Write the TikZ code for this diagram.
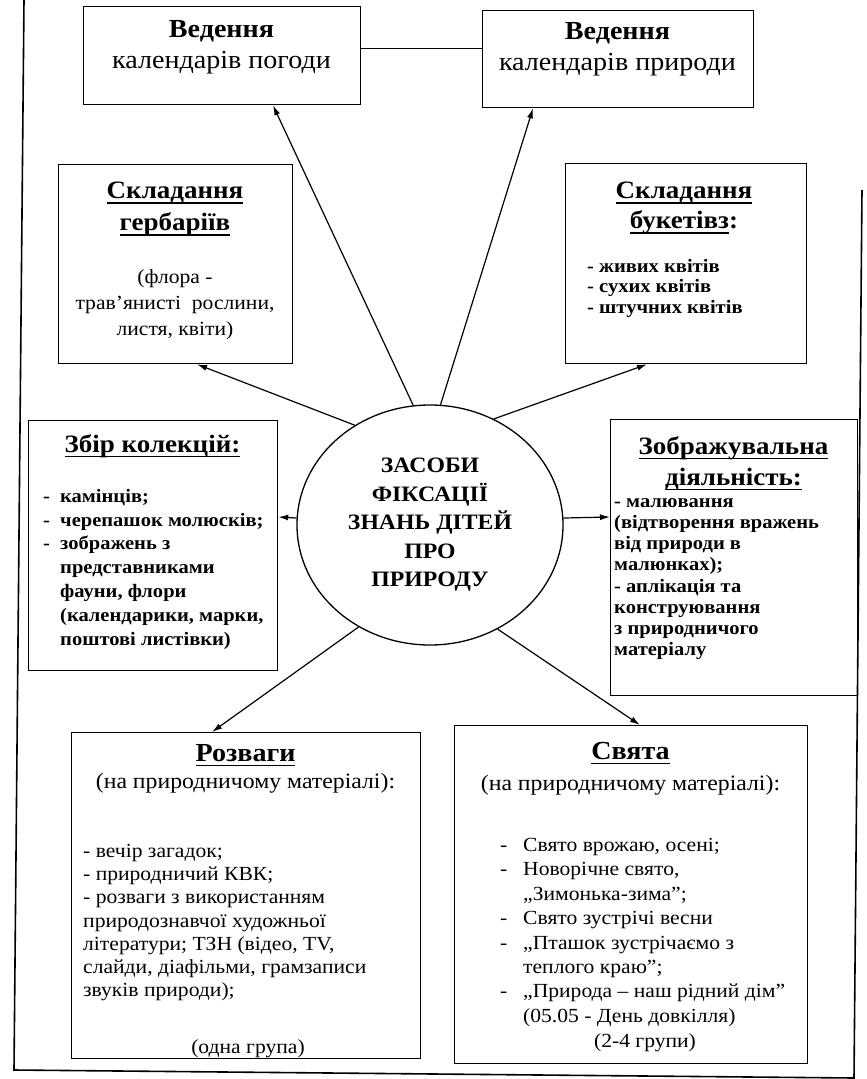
\documentclass[tikz,border=0pt]{standalone}
\usepackage{fontspec}
\setmainfont{Liberation Serif}[FakeStretch=1.08]
\usetikzlibrary{shapes.geometric,arrows.meta,calc}
\newcommand\hul[1]{\setbox0=\hbox{#1}\rlap{\rule[-5pt]{\wd0}{1.5pt}}\box0}
\newcommand\fsz[2]{\fontsize{#1}{#2}\selectfont}
\newcommand\dsh{\makebox[17pt][l]{-}}
\newcommand\indt{\hspace*{17pt}}
\newcommand\dshb{\makebox[23pt][l]{-}}
\newcommand\indtb{\hspace*{23pt}}
\tikzset{
  box/.style={draw, line width=1.3pt, inner sep=0pt, anchor=north west},
  txt/.style={inner sep=0pt, anchor=north, align=center},
  ltxt/.style={inner sep=0pt, anchor=north west, align=left},
  arr/.style={line width=1.2pt, -{Latex[length=10pt,width=6pt]}},
  ln/.style={line width=1.2pt},
  frame/.style={line width=1.6pt}
}
\begin{document}
\begin{tikzpicture}[x=1pt,y=-1pt]
\useasboundingbox (0,0) rectangle (867,1079);
% outer frame
\draw[frame] (24,0) -- (14,1070) -- (854,1078) -- (862,190);
% boxes
\node[box, minimum width=277pt, minimum height=98pt] (b1) at (83,6) {};
\node[box, minimum width=271pt, minimum height=97pt] (b2) at (482,10) {};
\node[box, minimum width=234pt, minimum height=199pt] (b3) at (58,164) {};
\node[box, minimum width=241pt, minimum height=200pt] (b4) at (565,163) {};
\node[box, minimum width=249pt, minimum height=250pt] (b5) at (28,420) {};
\node[box, minimum width=247pt, minimum height=276pt] (b6) at (610,419) {};
\node[box, minimum width=349pt, minimum height=326pt] (b7) at (71,732) {};
\node[box, minimum width=353pt, minimum height=338pt] (b8) at (454,725) {};
% centre
\node[draw, ellipse, line width=1.3pt, minimum width=266pt, minimum height=240pt, inner sep=0pt, align=center, font=\fsz{22}{28.5}\bfseries] (c) at (430,525) {ЗАСОБИ\\ФІКСАЦІЇ\\ЗНАНЬ ДІТЕЙ\\ПРО\\ПРИРОДУ};
% texts
\node[txt, font=\fsz{26}{31}] (t1) at (221.5,20) {{\bfseries Ведення}\\календарів погоди};
\node[txt, font=\fsz{26}{31}] (t2) at (617.5,22) {{\bfseries Ведення}\\календарів природи};
\node[txt, font=\fsz{25}{32}\bfseries] (h3) at (175,182) {\hul{Складання}\\\hul{гербаріїв}};
\node[txt, font=\fsz{20}{26}] (p3) at (175,269) {(флора -\\трав’янисті~ рослини,\\листя, квіти)};
\node[txt, font=\fsz{25}{30}\bfseries] (h4) at (684,182) {\hul{Складання}\\\hul{букетівз}:};
\node[ltxt, font=\fsz{19}{20.5}\bfseries] (p4) at (587,259) {- живих квітів\\- сухих квітів\\- штучних квітів};
\node[txt, font=\fsz{25}{30}\bfseries] (h5) at (152.5,434) {\hul{Збір колекцій:}};
\node[ltxt, font=\fsz{19}{23.8}\bfseries] (p5) at (43,489) {\dsh камінців;\\\dsh черепашок молюсків;\\\dsh зображень з\\\indt представниками\\\indt фауни, флори\\\indt (календарики, марки,\\\indt поштові листівки)};
\node[txt, font=\fsz{25}{31}\bfseries] (h6) at (733.5,436) {\hul{Зображувальна}\\\hul{діяльність:}};
\node[ltxt, font=\fsz{19}{21.25}\bfseries] (p6) at (614,498) {- малювання\\(відтворення вражень\\від природи в\\малюнках);\\- аплікація та\\конструювання\\з природничого\\матеріалу};
\node[txt, font=\fsz{26}{30}\bfseries] (h7) at (245.5,744) {\hul{Розваги}};
\node[txt, font=\fsz{22}{26}] (s7) at (245.5,773) {(на природничому матеріалі):};
\node[ltxt, font=\fsz{20}{23.2}] (p7) at (83,844) {- вечір загадок;\\- природничий КВК;\\- розваги з використанням\\природознавчої художньої\\літератури; ТЗН (відео, TV,\\слайди, діафільми, грамзаписи\\звуків природи);};
\node[txt, font=\fsz{20}{24}] (g7) at (248,1039) {(одна група)};
\node[txt, font=\fsz{26}{30}\bfseries] (h8) at (630.5,742) {\hul{Свята}};
\node[txt, font=\fsz{22}{26}] (s8) at (630.5,775) {(на природничому матеріалі):};
\node[ltxt, font=\fsz{20}{24.4}] (p8) at (500,838) {\dshb Свято врожаю, осені;\\\dshb Новорічне свято,\\\indtb „Зимонька-зима”;\\\dshb Свято зустрічі весни\\\dshb „Пташок зустрічаємо з\\\indtb теплого краю”;\\\dshb „Природа – наш рідний дім”\\\indtb (05.05 - День довкілля)};
\node[txt, font=\fsz{20}{24}] (g8) at (645,1033) {(2-4 групи)};
% connector endpoints
\coordinate (e1) at ($(b1.south west)+(190,0)$);
\coordinate (e2) at ($(b2.south west)+(51,0)$);
\coordinate (e3) at ($(b3.south west)+(139,0)$);
\coordinate (e4) at ($(b4.south west)+(82,0)$);
\coordinate (e5) at ($(b5.north east)+(0,97)$);
\coordinate (e6) at ($(b6.north west)+(0,98)$);
\coordinate (e7) at ($(b7.north west)+(141,0)$);
\coordinate (e8) at ($(b8.north west)+(186,0)$);
% connectors
\draw[ln] ([yshift=7pt]b1.east) -- ([yshift=7pt]b1.east -| b2.west);
\draw[arr] (c.98) -- (e1);
\draw[arr] (c.85) -- (e2);
\draw[arr] (c.127) -- (e3);
\draw[arr] (c.59) -- (e4);
\draw[arr] (c.177) -- (e5);
\draw[arr] (c.3) -- (e6);
\draw[arr] (c.235) -- (e7);
\draw[arr] (c.303) -- (e8);
\end{tikzpicture}
\end{document}
